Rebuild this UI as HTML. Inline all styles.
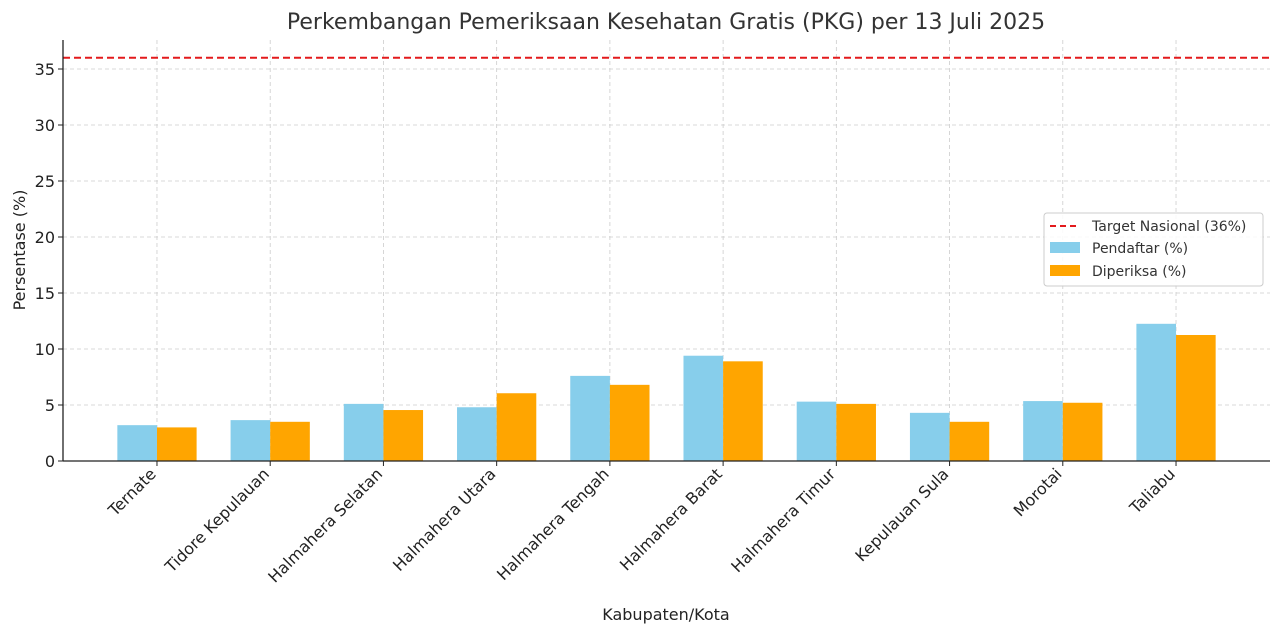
<!DOCTYPE html>
<html><head><meta charset="utf-8"><style>
body{margin:0;background:#fff;font-family:"DejaVu Sans","Liberation Sans",sans-serif;}
</style></head><body>
<svg id="chart" width="1280" height="634" xmlns="http://www.w3.org/2000/svg" font-family="DejaVu Sans, Liberation Sans, sans-serif">
<text x="666" y="29" text-anchor="middle" font-size="22" fill="#333">Perkembangan Pemeriksaan Kesehatan Gratis (PKG) per 13 Juli 2025</text>
<g id="grid"></g><g id="bars"></g><g id="axes"></g>
<text x="666" y="620" text-anchor="middle" font-size="16" fill="#222">Kabupaten/Kota</text>
<text transform="translate(25,250) rotate(-90)" text-anchor="middle" font-size="16" fill="#222">Persentase (%)</text>
<g>
<rect x="1044" y="213" width="219" height="73" fill="#fff" fill-opacity="0.85" stroke="#ccc" rx="3"/>
<line x1="1050" y1="226" x2="1080" y2="226" stroke="#e31a1c" stroke-width="2" stroke-dasharray="6,4"/>
<text x="1092" y="231" font-size="14" fill="#333">Target Nasional (36%)</text>
<rect x="1050" y="242" width="30" height="11" fill="#87ceeb"/>
<text x="1092" y="253" font-size="14" fill="#333">Pendaftar (%)</text>
<rect x="1050" y="265" width="30" height="11" fill="#ffa500"/>
<text x="1092" y="276" font-size="14" fill="#333">Diperiksa (%)</text>
</g>
</svg>
<script>
const categories=["Ternate","Tidore Kepulauan","Halmahera Selatan","Halmahera Utara","Halmahera Tengah","Halmahera Barat","Halmahera Timur","Kepulauan Sula","Morotai","Taliabu"];
const pendaftar=[3.2,3.65,5.1,4.8,7.6,9.4,5.3,4.3,5.35,12.25];
const diperiksa=[3.0,3.5,4.55,6.05,6.8,8.9,5.1,3.5,5.2,11.25];
const target=36;
const yTicks=[0,5,10,15,20,25,30,35];
const NS="http://www.w3.org/2000/svg";
const L=63,R=1270,T=40,B=461;
const xs=i=>L+(i+0.83)*(R-L)/(categories.length-1+1.66);
const ys=v=>B-v*(B-69)/35;
const step=(R-L)/(categories.length-1+1.66), bw=step*0.35;
function mk(tag,attrs,parent){const e=document.createElementNS(NS,tag);for(const k in attrs)e.setAttribute(k,attrs[k]);document.getElementById(parent).appendChild(e);return e;}
yTicks.forEach(t=>{
 const g=mk('line',{x1:L,x2:R,y1:ys(t),y2:ys(t),stroke:'#ccc','stroke-dasharray':'4,3','stroke-width':0.8},'grid');
 
 
 const tk=mk('line',{x1:L-5,x2:L,y1:ys(t),y2:ys(t),stroke:'#222'},'axes');
 
 
 const tx=mk('text',{x:L-8,y:ys(t)+6,'text-anchor':'end','font-size':16,fill:'#222'},'axes');
 tx.textContent=t;
 
 
});
categories.forEach((c,i)=>{
 const x=xs(i);
 const g=mk('line',{x1:x,x2:x,y1:T,y2:B,stroke:'#ccc','stroke-dasharray':'4,3','stroke-width':0.8},'grid');
 
 
 const b1=mk('rect',{x:x-bw,y:ys(pendaftar[i]),width:bw,height:B-ys(pendaftar[i]),fill:'#87ceeb'},'bars');
 
 
 const b2=mk('rect',{x:x,y:ys(diperiksa[i]),width:bw,height:B-ys(diperiksa[i]),fill:'#ffa500'},'bars');
 
 
 const tk=mk('line',{x1:x,x2:x,y1:B,y2:B+5,stroke:'#222'},'axes');
 
 
 const tx=mk('text',{x:x,y:B+14,'text-anchor':'end','font-size':16,fill:'#222',transform:`rotate(-45 ${x} ${B+14})`},'axes');
 tx.textContent=c;
 
 
});
const tl=mk('line',{x1:L,x2:R,y1:ys(target),y2:ys(target),stroke:'#e31a1c','stroke-width':2,'stroke-dasharray':'7,4'},'axes');


const ax=mk('line',{x1:L,x2:L,y1:T,y2:B,stroke:'#222','stroke-width':1.3},'axes');


const bx=mk('line',{x1:L,x2:R,y1:B,y2:B,stroke:'#222','stroke-width':1.3},'axes');


</script>
</body></html>
